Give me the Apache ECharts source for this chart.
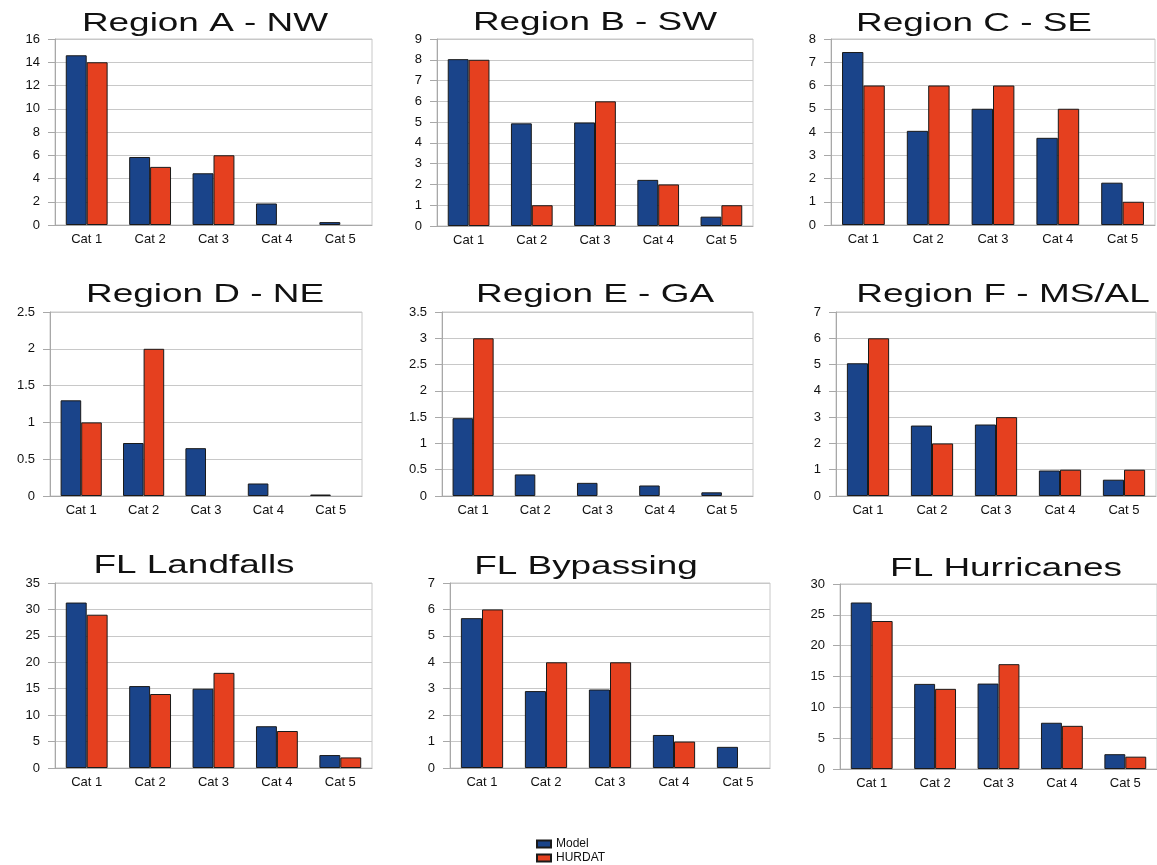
<!DOCTYPE html>
<html lang="en">
<head>
<meta charset="UTF-8">
<title>Model vs HURDAT by region</title>
<script src="https://cdn.jsdelivr.net/npm/echarts@6/dist/echarts.min.js"></script>
<style>
  html, body { margin: 0; padding: 0; background: #fff; }
  #main { width: 1157px; height: 865px; }
</style>
</head>
<body>
<div id="main"></div>
<script>
var categories = ['Cat 1', 'Cat 2', 'Cat 3', 'Cat 4', 'Cat 5'];
var titles = ['Region A - NW', 'Region B - SW', 'Region C - SE',
              'Region D - NE', 'Region E - GA', 'Region F - MS/AL',
              'FL Landfalls', 'FL Bypassing', 'FL Hurricanes'];

// Model vs HURDAT counts, one pair per panel
var modelA = [14.6, 5.85, 4.45, 1.85, 0.25];
var hurdatA = [14, 5, 6, 0, 0];
var modelB = [8.03, 4.94, 4.98, 2.22, 0.45];
var hurdatB = [8, 1, 6, 2, 1];
var modelC = [7.44, 4.05, 5.0, 3.75, 1.82];
var hurdatC = [6, 6, 6, 5, 1];
var modelD = [1.3, 0.72, 0.65, 0.17, 0.02];
var hurdatD = [1, 2, 0, 0, 0];
var modelE = [1.48, 0.41, 0.25, 0.2, 0.07];
var hurdatE = [3, 0, 0, 0, 0];
var modelF = [5.05, 2.68, 2.72, 0.97, 0.62];
var hurdatF = [6, 2, 3, 1, 1];
var modelG = [31.3, 15.5, 15.0, 7.9, 2.45];
var hurdatG = [29, 14, 18, 7, 2];
var modelH = [5.67, 2.91, 2.97, 1.25, 0.8];
var hurdatH = [6, 4, 4, 1, 0];
var modelI = [27.0, 13.8, 13.85, 7.5, 2.4];
var hurdatI = [24, 13, 17, 7, 2];

// y axis ticks per panel
var yMax = [16, 9, 8, 2.5, 3.5, 7, 35, 7, 30];
var yStep = [2, 1, 1, 0.5, 0.5, 1, 5, 1, 5];

var modelSets = [modelA, modelB, modelC, modelD, modelE, modelF, modelG, modelH, modelI];
var hurdatSets = [hurdatA, hurdatB, hurdatC, hurdatD, hurdatE, hurdatF, hurdatG, hurdatH, hurdatI];

// panel layout: left, top, width, height of the plot area
var boxes = [
  [55, 39, 317, 186], [437, 39, 316, 187], [831, 39, 324, 186],
  [50, 312, 312, 184], [442, 312, 311, 184], [836, 312, 320, 184],
  [55, 583, 317, 185], [450, 583, 320, 185], [840, 584, 317, 185]
];
// title centre x and baseline y
var titlePos = [
  [205, 32], [595, 31], [974, 32],
  [205, 303], [595, 303], [1003, 303],
  [194, 574], [586, 575], [1006, 577]
];

var BLUE = '#1a448a';
var RED = '#e5401f';
var FONT = '"Liberation Sans", Arial, sans-serif';

// zero counts get no outline, like the original (no flat line on the axis)
function bars(values) {
  return values.map(function (v) {
    return v === 0 ? { value: 0, itemStyle: { borderWidth: 0 } } : v;
  });
}

var grids = [], xAxes = [], yAxes = [], series = [], texts = [];

for (var i = 0; i < 9; i++) {
  var b = boxes[i];
  grids.push({
    left: b[0], top: b[1], width: b[2], height: b[3],
    show: true, borderColor: '#c8c8c8', borderWidth: 1
  });
  xAxes.push({
    gridIndex: i,
    type: 'category',
    data: categories,
    axisLine: { lineStyle: { color: '#a8a8a8' } },
    axisTick: { length: 5, lineStyle: { color: '#a8a8a8' } },
    axisLabel: { fontSize: 13, color: '#111', margin: 8, fontFamily: FONT }
  });
  yAxes.push({
    gridIndex: i,
    type: 'value',
    min: 0,
    max: yMax[i],
    interval: yStep[i],
    axisLine: { show: true, lineStyle: { color: '#a8a8a8' } },
    axisTick: { show: true, length: 7, lineStyle: { color: '#a8a8a8' } },
    axisLabel: { fontSize: 13, color: '#111', margin: 15, fontFamily: FONT },
    splitLine: { lineStyle: { color: '#c8c8c8' } }
  });
  series.push({
    name: 'Model', type: 'bar', xAxisIndex: i, yAxisIndex: i,
    data: bars(modelSets[i]), barWidth: '33%', barGap: '0%',
    itemStyle: { color: BLUE, borderColor: '#1a1a1a', borderWidth: 1 }
  });
  series.push({
    name: 'HURDAT', type: 'bar', xAxisIndex: i, yAxisIndex: i,
    data: bars(hurdatSets[i]), barWidth: '33%', barGap: '0%',
    itemStyle: { color: RED, borderColor: '#1a1a1a', borderWidth: 1 }
  });
  // titles are stretched wide in the original, so draw them as scaled text
  texts.push({
    type: 'text',
    x: titlePos[i][0],
    y: titlePos[i][1] - 8,
    scaleX: 1.42,
    style: {
      text: titles[i],
      fontSize: 26,
      fontFamily: FONT,
      fill: '#111',
      align: 'center', textAlign: 'center',
      verticalAlign: 'middle', textVerticalAlign: 'middle'
    }
  });
}

var chart = echarts.init(document.getElementById('main'));
chart.setOption({
  animation: false,
  backgroundColor: '#fff',
  grid: grids,
  xAxis: xAxes,
  yAxis: yAxes,
  series: series,
  graphic: texts,
  legend: {
    data: ['Model', 'HURDAT'],
    orient: 'vertical',
    left: 536, top: 838,
    height: 40,
    padding: 0,
    icon: 'rect',
    itemWidth: 14, itemHeight: 7, itemGap: 2,
    textStyle: { fontSize: 12, lineHeight: 11, color: '#111', fontFamily: FONT }
  }
});
</script>
</body>
</html>
